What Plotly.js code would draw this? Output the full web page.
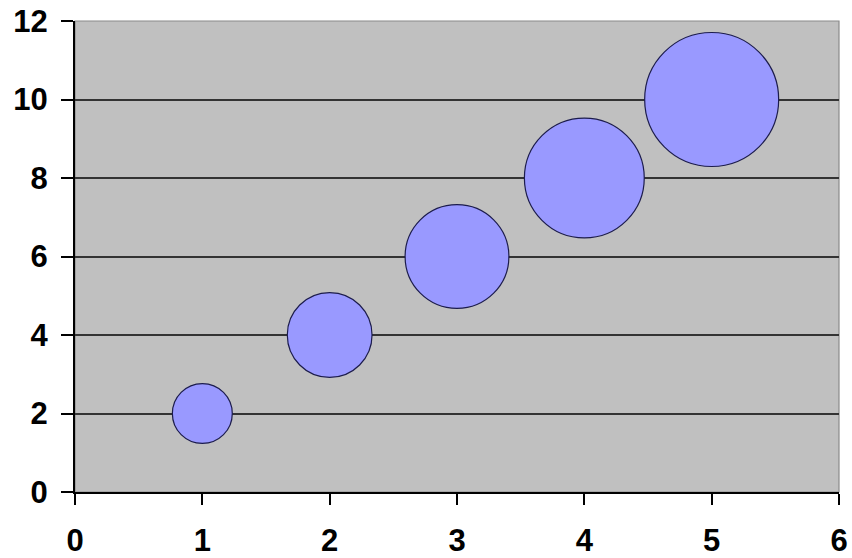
<!DOCTYPE html>
<html>
<head>
<meta charset="utf-8">
<script src="https://cdn.plot.ly/plotly-3.0.1.min.js"></script>
<style>html,body{margin:0;padding:0;background:#fff;}#chart{width:852px;height:558px;}</style>
</head>
<body>
<div id="chart"></div>
<script>
var xValues = [1, 2, 3, 4, 5];
var yValues = [2, 4, 6, 8, 10];
var bubbleSizes = [1, 2, 3, 4, 5];
var xTicks = [0, 1, 2, 3, 4, 5, 6];
var yTicks = [0, 2, 4, 6, 8, 10, 12];

var maxDiameter = 134;
var sizeref = 2 * Math.max.apply(null, bubbleSizes) / (maxDiameter * maxDiameter);

var trace = {
  type: 'scatter',
  mode: 'markers',
  x: xValues,
  y: yValues,
  marker: {
    size: bubbleSizes,
    sizemode: 'area',
    sizeref: sizeref,
    color: '#9999ff',
    opacity: 1,
    line: {color: '#1c1c4c', width: 1.2}
  },
  hoverinfo: 'none'
};

var tickFont = {family: '"Liberation Sans", Arial, sans-serif', size: 31, color: '#000', weight: 'bold'};

var layout = {
  width: 852,
  height: 558,
  margin: {l: 75, r: 13, t: 21, b: 66, pad: 0},
  paper_bgcolor: '#ffffff',
  plot_bgcolor: '#c0c0c0',
  showlegend: false,
  xaxis: {
    range: [0, 6],
    tickvals: xTicks,
    ticktext: xTicks.map(String),
    showgrid: false,
    zeroline: false,
    showline: true,
    linecolor: '#000',
    linewidth: 2,
    ticks: 'outside',
    ticklen: 11,
    tickwidth: 2,
    tickcolor: '#000',
    tickfont: tickFont,
    ticklabelstandoff: 9,
    fixedrange: true
  },
  yaxis: {
    range: [0, 12],
    tickvals: yTicks,
    ticktext: yTicks.map(String),
    showgrid: true,
    gridcolor: '#333333',
    gridwidth: 2,
    zeroline: false,
    showline: true,
    linecolor: '#000',
    linewidth: 2,
    ticks: 'outside',
    ticklen: 12,
    tickwidth: 2,
    tickcolor: '#000',
    tickfont: tickFont,
    ticklabelstandoff: 7,
    fixedrange: true
  },
  shapes: [{
    type: 'rect', xref: 'paper', yref: 'paper',
    x0: 0, x1: 1, y0: 0, y1: 1,
    line: {color: '#8a8a8a', width: 1.2},
    fillcolor: 'rgba(0,0,0,0)',
    layer: 'below'
  }]
};

Plotly.newPlot('chart', [trace], layout, {displayModeBar: false, staticPlot: true});
</script>
</body>
</html>
